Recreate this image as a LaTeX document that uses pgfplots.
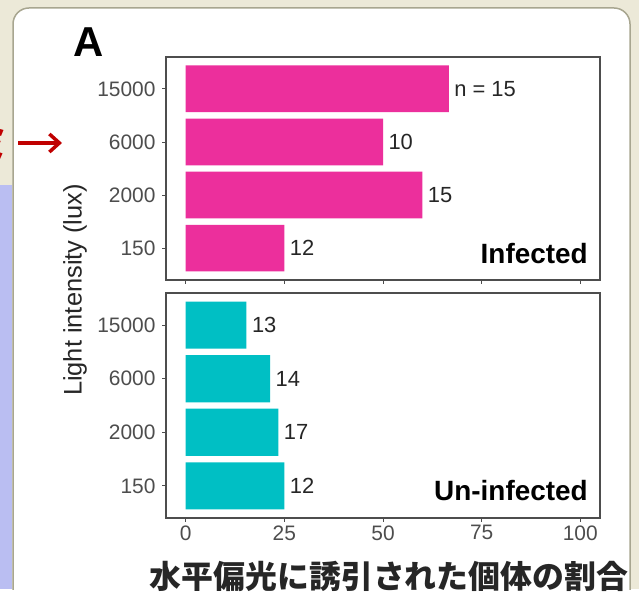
\documentclass[border=0pt]{standalone}
\usepackage{fontspec}
\setmainfont{Liberation Sans}
\newfontfamily\cjk{Noto Sans CJK JP}
\usepackage{pgfplots}
\pgfplotsset{compat=1.18}
\usetikzlibrary{arrows.meta}
\definecolor{infc}{HTML}{EC2F9C}
\definecolor{uninf}{HTML}{00BFC4}
\definecolor{framec}{HTML}{4D4D4D}
\definecolor{beige}{HTML}{ECE9D8}
\definecolor{lblue}{HTML}{BABEF2}
\definecolor{panelborder}{HTML}{A8A690}
\definecolor{arrowred}{HTML}{C00000}

\pgfplotsset{
 mybar/.style={
  scale only axis, width=434bp, anchor=north west,
  xbar, bar width=0.88, xmin=-5, xmax=105, ymin=0.4, ymax=4.6,
  ytick={1,2,3,4}, yticklabels={150,2000,6000,15000},
  xtick={0,25,50,75,100},
  tick pos=left,
  tick align=outside, major tick length=4bp,
  tick style={draw=framec, line width=0.8bp},
  axis line style={draw=framec, line width=1.2bp},
  ticklabel style={font=\fontsize{21}{21}\selectfont, text=framec},
  yticklabel style={xshift=-3bp},
  /pgf/number format/assume math mode=true,
  point meta=explicit symbolic,
  nodes near coords,
  nodes near coords style={font=\fontsize{22}{22}\selectfont, text=black!85, anchor=west, xshift=2bp},
  axis background/.style={fill=white},
 }
}

\begin{document}
\begin{tikzpicture}
\begin{scope}[x=1bp,y=1bp]
\useasboundingbox (0,0) rectangle (639,589);
\clip (0,0) rectangle (639,589);
\fill[beige] (0,0) rectangle (639,589);
\fill[lblue] (0,0) rectangle (12,404);
\filldraw[fill=white, draw=panelborder, line width=1.5bp, rounded corners=16bp] (13,-30) rectangle (630,581);
\node[anchor=east, text=arrowred, font=\cjk\bfseries\fontsize{40}{40}\selectfont, inner sep=0pt] at (11,446) {ミ};
\draw[arrowred, line width=3.5bp, -{Straight Barb[length=10bp,width=18bp]}] (18,446) -- (62,446);
\end{scope}

\begin{axis}[mybar, at={(166bp,532bp)}, height=223bp, xticklabels={}]
\addplot[fill=infc, draw=none] coordinates {(25,1)[12] (60,2)[15] (50,3)[10] (66.67,4)[n = 15]};
\node[anchor=base east, font=\bfseries\fontsize{28}{28}\selectfont, inner sep=0pt] at (rel axis cs:0.972,0.076) {Infected};
\end{axis}

\begin{axis}[mybar, at={(166bp,296bp)}, height=225bp]
\addplot[fill=uninf, draw=none] coordinates {(25,1)[12] (23.5,2)[17] (21.4,3)[14] (15.4,4)[13]};
\node[anchor=base east, font=\bfseries\fontsize{28}{28}\selectfont, inner sep=0pt] at (rel axis cs:0.972,0.076) {Un-infected};
\end{axis}

\node[rotate=90, font=\fontsize{25.5}{25.5}\selectfont, text=black!85] at (75bp,299bp) {Light intensity (lux)};
\node[font=\bfseries\fontsize{42}{42}\selectfont, inner sep=0pt] at (89bp,547bp) {A};
\node[font=\cjk\bfseries\fontsize{32}{32}\selectfont, text=black!85, inner sep=0pt] at (389bp,13bp) {水平偏光に誘引された個体の割合};
\end{tikzpicture}
\end{document}
